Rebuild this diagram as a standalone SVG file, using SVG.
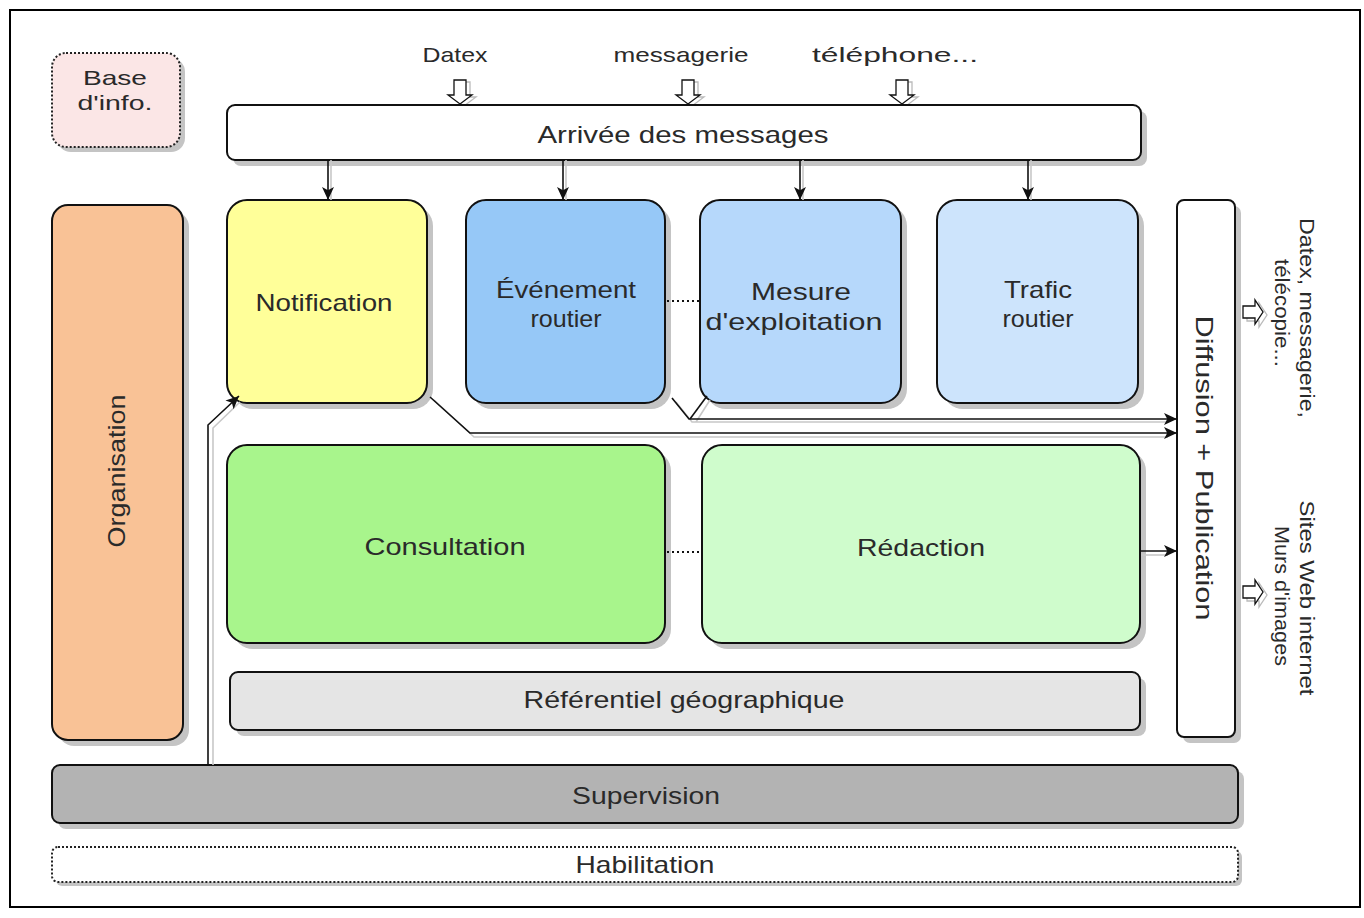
<svg xmlns="http://www.w3.org/2000/svg" width="1364" height="918" viewBox="0 0 1364 918">
<style>
.t{font-family:"Liberation Sans",Arial,sans-serif;font-size:24px;fill:#2a2a2a;text-anchor:middle}
.b{font-family:"Liberation Sans",Arial,sans-serif;font-size:21px;fill:#2a2a2a;text-anchor:middle}
.s{font-family:"Liberation Sans",Arial,sans-serif;font-size:21px;fill:#2a2a2a;text-anchor:middle}
.sh{fill:#c4c4c4;stroke:none}
.bx{stroke:#111;stroke-width:2}
.ln{fill:none;stroke:#111;stroke-width:1.6}
.lns{fill:none;stroke:#c8c8c8;stroke-width:1.6}
.dot{fill:none;stroke:#111;stroke-width:2;stroke-dasharray:2 3}
.ha{fill:#fff;stroke:#111;stroke-width:1.3}
.has{fill:none;stroke:#bbb;stroke-width:1.3}
</style>
<defs>
<marker id="arb" viewBox="0 0 12 12" refX="12" refY="6" markerWidth="13" markerHeight="13" markerUnits="userSpaceOnUse" orient="auto">
<path d="M0,0.5 L12,6 L0,11.5 L3,6 Z" fill="#111"/>
</marker>
<path id="hd" d="M-6,0 L6,0 L6,15 L12,15 L0,24 L-12,15 L-6,15 Z"/>
<path id="hr" d="M0,-6 L0,6 L12,6 L12,12 L20,0 L12,-12 L12,-6 Z"/>
</defs>
<rect x="10" y="10" width="1350" height="897" fill="#fff" stroke="#000" stroke-width="2"/>

<g id="base-info">
<rect class="sh" x="57" y="58" width="128" height="94" rx="14"/>
<rect x="52" y="53" width="128" height="94" rx="14" fill="#fbe6e6" stroke="#222" stroke-width="2" stroke-dasharray="2 2"/>
<text class="b" x="115" y="85" textLength="64" lengthAdjust="spacingAndGlyphs">Base</text>
<text class="b" x="115" y="110" textLength="75" lengthAdjust="spacingAndGlyphs">d'info.</text>
</g>

<g id="inputs">
<text class="s" x="455" y="62" textLength="65" lengthAdjust="spacingAndGlyphs">Datex</text>
<text class="s" x="681" y="62" textLength="135" lengthAdjust="spacingAndGlyphs">messagerie</text>
<text class="s" x="895" y="62" textLength="166" lengthAdjust="spacingAndGlyphs">téléphone...</text>
<use href="#hd" class="has" x="464" y="82"/><use href="#hd" class="ha" x="460" y="80"/>
<use href="#hd" class="has" x="692" y="82"/><use href="#hd" class="ha" x="688" y="80"/>
<use href="#hd" class="has" x="906" y="82"/><use href="#hd" class="ha" x="902" y="80"/>
</g>

<g id="arrivee">
<rect class="sh" x="233" y="111" width="914" height="55" rx="8"/>
<rect class="bx" x="227" y="105" width="914" height="55" rx="8" fill="#fff"/>
<text class="t" x="683" y="143" textLength="291" lengthAdjust="spacingAndGlyphs">Arrivée des messages</text>
</g>

<g id="organisation">
<rect class="sh" x="58" y="211" width="131" height="535" rx="16"/>
<rect class="bx" x="52" y="205" width="131" height="535" rx="16" fill="#f9c296"/>
<text class="t" transform="translate(125,471) rotate(-90)" textLength="153" lengthAdjust="spacingAndGlyphs">Organisation</text>
</g>

<g id="notification">
<rect class="sh" x="233" y="206" width="200" height="203" rx="20"/>
<rect class="bx" x="227" y="200" width="200" height="203" rx="20" fill="#ffff99"/>
<text class="t" x="324" y="311" textLength="137" lengthAdjust="spacingAndGlyphs">Notification</text>
</g>

<g id="evenement">
<rect class="sh" x="472" y="206" width="199" height="203" rx="20"/>
<rect class="bx" x="466" y="200" width="199" height="203" rx="20" fill="#96c8f7"/>
<text class="t" x="566" y="298" textLength="140" lengthAdjust="spacingAndGlyphs">Événement</text>
<text class="t" x="566" y="327" textLength="71" lengthAdjust="spacingAndGlyphs">routier</text>
</g>

<g id="mesure">
<rect class="sh" x="706" y="206" width="201" height="203" rx="20"/>
<rect class="bx" x="700" y="200" width="201" height="203" rx="20" fill="#b6d8fb"/>
<text class="t" x="801" y="300" textLength="100" lengthAdjust="spacingAndGlyphs">Mesure</text>
<text class="t" x="794" y="330" textLength="177" lengthAdjust="spacingAndGlyphs">d'exploitation</text>
</g>

<g id="trafic">
<rect class="sh" x="943" y="206" width="201" height="203" rx="20"/>
<rect class="bx" x="937" y="200" width="201" height="203" rx="20" fill="#cde4fc"/>
<text class="t" x="1038" y="298" textLength="68" lengthAdjust="spacingAndGlyphs">Trafic</text>
<text class="t" x="1038" y="327" textLength="71" lengthAdjust="spacingAndGlyphs">routier</text>
</g>

<g id="diffusion">
<rect class="sh" x="1183" y="206" width="58" height="537" rx="7"/>
<rect class="bx" x="1177" y="200" width="58" height="537" rx="7" fill="#fff"/>
<text class="t" transform="translate(1196,468) rotate(90)" textLength="305" lengthAdjust="spacingAndGlyphs">Diffusion + Publication</text>
</g>

<g id="consultation">
<rect class="sh" x="233" y="451" width="438" height="198" rx="20"/>
<rect class="bx" x="227" y="445" width="438" height="198" rx="20" fill="#a8f58c"/>
<text class="t" x="445" y="555" textLength="161" lengthAdjust="spacingAndGlyphs">Consultation</text>
</g>

<g id="redaction">
<rect class="sh" x="708" y="451" width="438" height="198" rx="20"/>
<rect class="bx" x="702" y="445" width="438" height="198" rx="20" fill="#cffccc"/>
<text class="t" x="921" y="556" textLength="128" lengthAdjust="spacingAndGlyphs">Rédaction</text>
</g>

<g id="referentiel">
<rect class="sh" x="236" y="678" width="910" height="58" rx="8"/>
<rect class="bx" x="230" y="672" width="910" height="58" rx="8" fill="#e5e5e5"/>
<text class="t" x="684" y="708" textLength="321" lengthAdjust="spacingAndGlyphs">Référentiel géographique</text>
</g>

<g id="supervision">
<rect class="sh" x="58" y="771" width="1186" height="58" rx="8"/>
<rect class="bx" x="52" y="765" width="1186" height="58" rx="8" fill="#b3b3b3"/>
<text class="t" x="646" y="804" textLength="148" lengthAdjust="spacingAndGlyphs">Supervision</text>
</g>

<g id="habilitation">
<rect class="sh" x="56" y="851" width="1186" height="35" rx="6" fill="#e6e6e6"/>
<rect x="52" y="847" width="1186" height="35" rx="6" fill="#fff" stroke="#222" stroke-width="2" stroke-dasharray="2 2"/>
<text class="t" x="645" y="873" textLength="139" lengthAdjust="spacingAndGlyphs">Habilitation</text>
</g>

<g id="outputs">
<use href="#hr" class="has" x="1247" y="315"/><use href="#hr" class="ha" x="1243" y="312"/>
<use href="#hr" class="has" x="1247" y="595"/><use href="#hr" class="ha" x="1243" y="592"/>
<text class="s" transform="translate(1300,318) rotate(90)" textLength="200" lengthAdjust="spacingAndGlyphs">Datex, messagerie,</text>
<text class="s" transform="translate(1275,313) rotate(90)" textLength="108" lengthAdjust="spacingAndGlyphs">télécopie...</text>
<text class="s" transform="translate(1300,598) rotate(90)" textLength="195" lengthAdjust="spacingAndGlyphs">Sites Web internet</text>
<text class="s" transform="translate(1275,596) rotate(90)" textLength="140" lengthAdjust="spacingAndGlyphs">Murs d'images</text>
</g>

<g id="connectors">
<path class="lns" d="M331,160 V200 M566,160 V200 M803,160 V200 M1031,160 V200"/>
<path class="ln" d="M328,160 V200" marker-end="url(#arb)"/>
<path class="ln" d="M563,160 V200" marker-end="url(#arb)"/>
<path class="ln" d="M800,160 V200" marker-end="url(#arb)"/>
<path class="ln" d="M1028,160 V200" marker-end="url(#arb)"/>
<path class="dot" d="M667,301 H699"/>
<path class="dot" d="M667,552 H701"/>
<path class="lns" d="M1141,555 H1168"/>
<path class="ln" d="M1141,551 H1177" marker-end="url(#arb)"/>
<path class="lns" d="M434,400 L474,437 H1168 M676,402 L692,422 H1168 M710,400 L696,422"/>
<path class="ln" d="M430,397 L470,433 H1177" marker-end="url(#arb)"/>
<path class="ln" d="M672,398 L689,419 H1177" marker-end="url(#arb)"/>
<path class="ln" d="M707,396 L690,419"/>
<path class="lns" d="M213,765 V428 L240,402"/>
<path class="ln" d="M208,765 V425 L239,396" marker-end="url(#arb)"/>
</g>
</svg>
